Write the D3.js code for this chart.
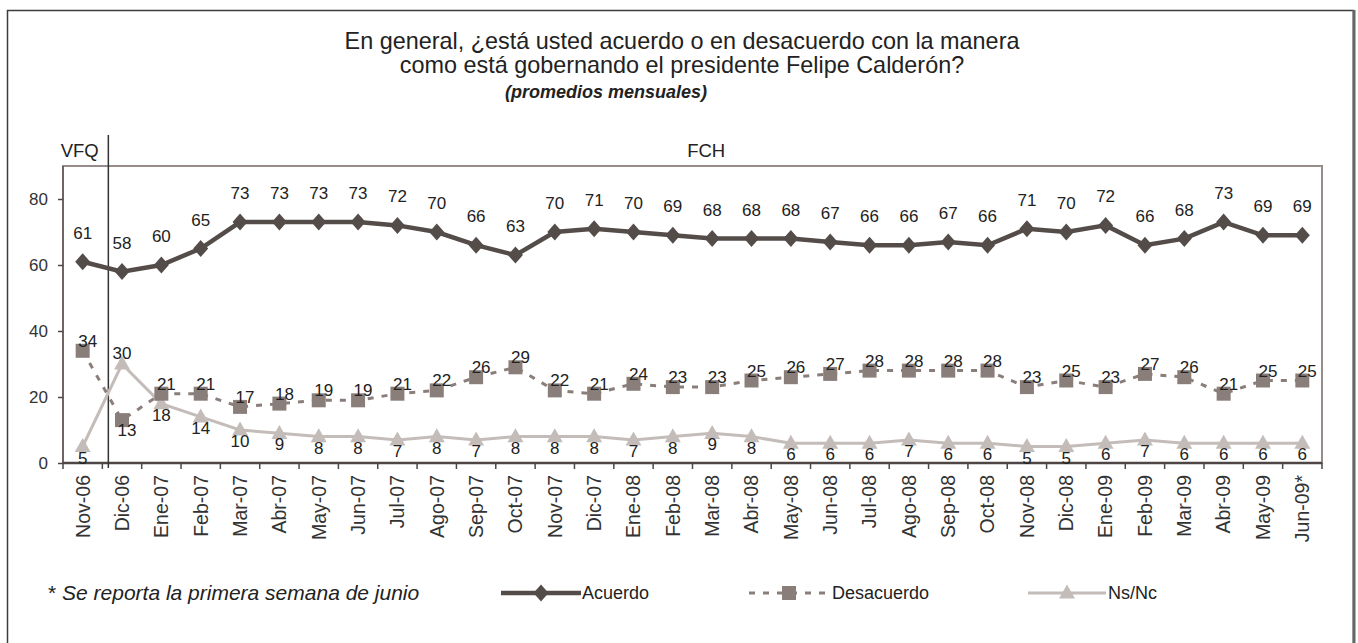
<!DOCTYPE html>
<html>
<head>
<meta charset="utf-8">
<script src="https://cdn.jsdelivr.net/npm/d3@7"></script>
<style>
  html, body { margin: 0; padding: 0; background: #fff; }
  svg { display: block; font-family: "Liberation Sans", Arial, sans-serif; }
</style>
</head>
<body>
<svg id="chart" width="1358" height="643"></svg>
<script>
const months = ["Nov-06","Dic-06","Ene-07","Feb-07","Mar-07","Abr-07","May-07","Jun-07","Jul-07","Ago-07","Sep-07","Oct-07","Nov-07","Dic-07","Ene-08","Feb-08","Mar-08","Abr-08","May-08","Jun-08","Jul-08","Ago-08","Sep-08","Oct-08","Nov-08","Dic-08","Ene-09","Feb-09","Mar-09","Abr-09","May-09","Jun-09*"];
const acuerdo    = [61,58,60,65,73,73,73,73,72,70,66,63,70,71,70,69,68,68,68,67,66,66,67,66,71,70,72,66,68,73,69,69];
const desacuerdo = [34,13,21,21,17,18,19,19,21,22,26,29,22,21,24,23,23,25,26,27,28,28,28,28,23,25,23,27,26,21,25,25];
const nsnc       = [5,30,18,14,10,9,8,8,7,8,7,8,8,8,7,8,9,8,6,6,6,7,6,6,5,5,6,7,6,6,6,6];
const yTicks = [0,20,40,60,80];
const titleLines = ["En general, ¿está usted acuerdo o en desacuerdo con la manera",
                    "como está gobernando el presidente Felipe Calderón?"];
const subtitle = "(promedios mensuales)";
const seriesNames = ["Acuerdo","Desacuerdo","Ns/Nc"];
const periodLabels = ["VFQ","FCH"];
const footnote = "Se reporta la primera semana de junio";

const C_AC = "#544c49", C_DE = "#8a7e7a", C_NS = "#c4bcb9", C_TXT = "#222";

const svg = d3.select("#chart");
const L = 63, R = 1322, T = 166, B = 463;
const x = d3.scaleBand().domain(months).range([L, R]);
const bw = x.bandwidth();
const cx = m => x(m) + bw / 2;
const y = d3.scaleLinear().domain([0, 90]).range([B, T]);

// outer frame
svg.append("rect").attr("x", 7.5).attr("y", 10.5).attr("width", 1346).attr("height", 700)
  .attr("fill", "none").attr("stroke", "#3c3c3c").attr("stroke-width", 1.5);
svg.append("line").attr("x1", 1354).attr("x2", 1354).attr("y1", 10).attr("y2", 643)
  .attr("stroke", "#666").attr("stroke-width", 3);

// title
svg.selectAll("text.title").data(titleLines).join("text")
  .attr("class", "title").attr("x", 682).attr("y", (d, i) => 49 + i * 24)
  .attr("text-anchor", "middle").attr("font-size", 23.4).attr("fill", C_TXT).text(d => d);
svg.append("text").attr("x", 606).attr("y", 98).attr("text-anchor", "middle")
  .attr("font-size", 18).attr("font-weight", "bold").attr("font-style", "italic")
  .attr("fill", C_TXT).text(subtitle);

// plot frame
svg.append("rect").attr("x", L).attr("y", T).attr("width", R - L).attr("height", B - T)
  .attr("fill", "none").attr("stroke", "#978c89").attr("stroke-width", 2);
svg.append("line").attr("x1", L).attr("x2", L).attr("y1", T).attr("y2", B)
  .attr("stroke", "#6e6562").attr("stroke-width", 2);

// y axis
const yAxis = d3.axisLeft(y).tickValues(yTicks).tickSize(5).tickPadding(10);
const gy = svg.append("g").attr("transform", `translate(${L},0)`).call(yAxis);
gy.select(".domain").remove();
gy.selectAll(".tick line").attr("stroke", "#4d4645").attr("stroke-width", 1.5);
gy.selectAll(".tick text").attr("font-size", 17).attr("fill", "#333")
  .attr("font-family", "Liberation Sans, Arial, sans-serif");

// x axis
const xAxis = d3.axisBottom(x).tickSize(0).tickPadding(0);
const gx = svg.append("g").attr("transform", `translate(0,${B})`).call(xAxis);
gx.select(".domain").remove();
gx.selectAll(".tick text").attr("font-size", 19.5).attr("fill", "#333")
  .attr("font-family", "Liberation Sans, Arial, sans-serif")
  .attr("text-anchor", "end").attr("transform", "translate(0,12) rotate(-90)")
  .attr("dx", 0).attr("dy", "0.35em").attr("y", 0).attr("x", 0);
const boundaries = months.map(m => x(m)).concat([R]);
svg.selectAll("line.xtick").data(boundaries).join("line").attr("class", "xtick")
  .attr("x1", d => d).attr("x2", d => d).attr("y1", B).attr("y2", B + 6)
  .attr("stroke", "#4d4645").attr("stroke-width", 1.5);
svg.append("line").attr("x1", L).attr("x2", R).attr("y1", B).attr("y2", B)
  .attr("stroke", "#4d4645").attr("stroke-width", 2.5);

// period separator and labels
const sepX = x(months[1]) + 6;
svg.append("line").attr("x1", sepX).attr("x2", sepX).attr("y1", 135).attr("y2", B + 5)
  .attr("stroke", "#333").attr("stroke-width", 1.5);
svg.append("text").attr("x", cx(months[0]) - 3).attr("y", 157).attr("text-anchor", "middle")
  .attr("font-size", 18.5).attr("fill", C_TXT).text(periodLabels[0]);
svg.append("text").attr("x", (x(months[1]) + R) / 2 - 6).attr("y", 157).attr("text-anchor", "middle")
  .attr("font-size", 18.5).attr("fill", C_TXT).text(periodLabels[1]);

// symbols
const diamond = (w, h) => `M0,${-h}L${w},0L0,${h}L${-w},0Z`;
const square = s => `M${-s},${-s}H${s}V${s}H${-s}Z`;
const triangle = (w, h) => `M0,${-h * 0.6}L${w},${h * 0.4}L${-w},${h * 0.4}Z`;

const line = d3.line().x((d, i) => cx(months[i])).y(d => y(d));

// Ns/Nc
svg.append("path").datum(nsnc).attr("d", line).attr("fill", "none")
  .attr("stroke", C_NS).attr("stroke-width", 3);
svg.selectAll("path.ns").data(nsnc).join("path").attr("class", "ns")
  .attr("transform", (d, i) => `translate(${cx(months[i])},${y(d)})`)
  .attr("d", triangle(8, 14)).attr("fill", C_NS);

// Desacuerdo
svg.append("path").datum(desacuerdo).attr("d", line).attr("fill", "none")
  .attr("stroke", C_DE).attr("stroke-width", 3).attr("stroke-dasharray", "6,8");
svg.selectAll("path.de").data(desacuerdo).join("path").attr("class", "de")
  .attr("transform", (d, i) => `translate(${cx(months[i])},${y(d)})`)
  .attr("d", square(7)).attr("fill", C_DE);

// Acuerdo
svg.append("path").datum(acuerdo).attr("d", line).attr("fill", "none")
  .attr("stroke", C_AC).attr("stroke-width", 4.5);
svg.selectAll("path.ac").data(acuerdo).join("path").attr("class", "ac")
  .attr("transform", (d, i) => `translate(${cx(months[i])},${y(d)})`)
  .attr("d", diamond(7.5, 8.5)).attr("fill", C_AC);

// data labels
const lab = (cls, data, fx, fy) => svg.selectAll("text." + cls).data(data).join("text")
  .attr("class", cls).attr("x", (d, i) => cx(months[i]) + fx(d, i)).attr("y", (d, i) => y(d) + fy(d, i))
  .attr("text-anchor", "middle").attr("font-size", 17).attr("fill", C_TXT).text(d => d);
lab("lac", acuerdo, () => 0, () => -23);
lab("lde", desacuerdo, () => 5, (d, i) => d < nsnc[i] ? 16 : -4);
lab("lns", nsnc, () => 0, (d, i) => d > desacuerdo[i] ? -5 : 17);

// legend
const LY = 593;
const leg = svg.append("g");
leg.append("line").attr("x1", 501).attr("x2", 581).attr("y1", LY).attr("y2", LY)
  .attr("stroke", C_AC).attr("stroke-width", 4.5);
leg.append("path").attr("transform", `translate(541,${LY})`).attr("d", diamond(7.5, 8.5)).attr("fill", C_AC);
leg.append("line").attr("x1", 749).attr("x2", 829).attr("y1", LY).attr("y2", LY)
  .attr("stroke", C_DE).attr("stroke-width", 3).attr("stroke-dasharray", "6,8");
leg.append("path").attr("transform", `translate(789,${LY})`).attr("d", square(7)).attr("fill", C_DE);
leg.append("line").attr("x1", 1028).attr("x2", 1106).attr("y1", LY).attr("y2", LY)
  .attr("stroke", C_NS).attr("stroke-width", 3);
leg.append("path").attr("transform", `translate(1067,${LY})`).attr("d", triangle(8, 14)).attr("fill", C_NS);
const legX = [582, 832, 1108];
leg.selectAll("text").data(seriesNames).join("text")
  .attr("x", (d, i) => legX[i]).attr("y", LY + 6).attr("font-size", 18).attr("fill", C_TXT).text(d => d);

// footnote
const fn = svg.append("text").attr("x", 48).attr("y", 600).attr("font-size", 21).attr("fill", C_TXT);
fn.append("tspan").text("* ");
fn.append("tspan").attr("font-style", "italic").text(footnote);
</script>
</body>
</html>
